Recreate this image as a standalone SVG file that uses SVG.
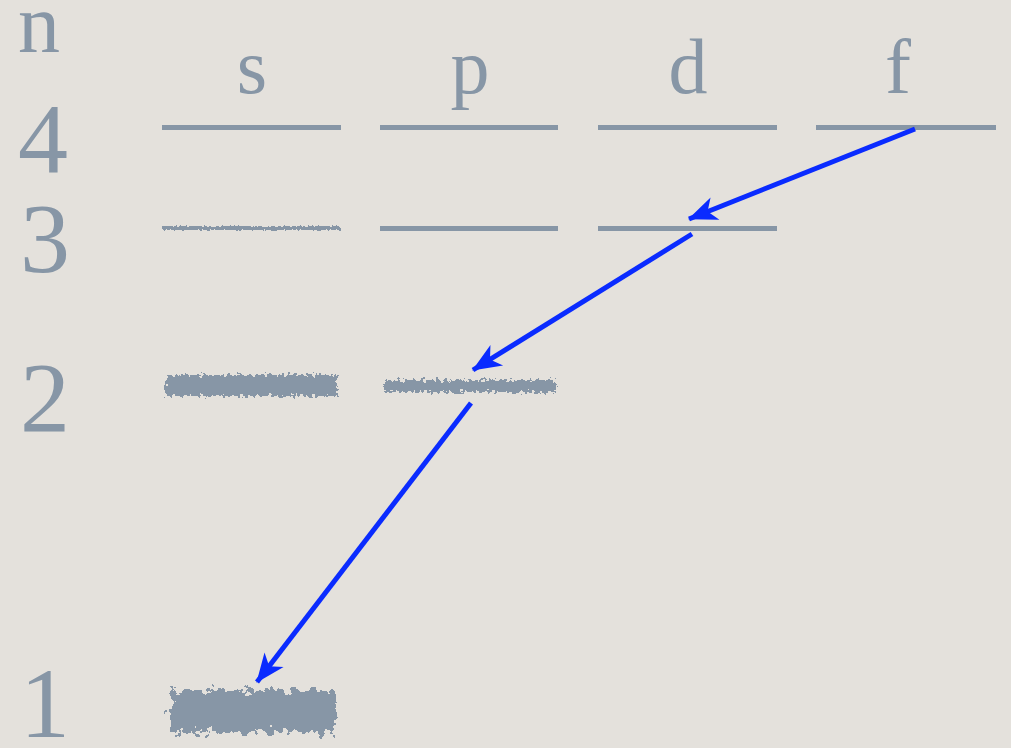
<svg xmlns="http://www.w3.org/2000/svg" width="1011" height="748" viewBox="0 0 1011 748">
<defs>
<style>
.lab{font-family:"Liberation Serif","DejaVu Serif",serif;fill:#8796a6}
.num{font-size:100px}
.orb{font-size:78px;text-anchor:middle}
.lvl{fill:#8796a6}
.arr{stroke:#0a2bff;stroke-width:5;fill:none;marker-end:url(#ah)}
</style>
<marker id="ah" markerUnits="userSpaceOnUse" viewBox="-32 -14 34 28" markerWidth="34" markerHeight="28" refX="0" refY="0" orient="auto">
<path d="M1,0 L-28,-12 L-20,0 L-28,12 Z" fill="#0a2bff"/>
</marker>
<filter id="rough1" x="-5%" y="-100%" width="110%" height="300%">
<feTurbulence type="fractalNoise" baseFrequency="0.5" numOctaves="2" seed="3"/>
<feDisplacementMap in="SourceGraphic" scale="4" xChannelSelector="R" yChannelSelector="G"/>
</filter>
<filter id="rough2" x="-5%" y="-60%" width="110%" height="220%">
<feTurbulence type="fractalNoise" baseFrequency="0.25" numOctaves="3" seed="7"/>
<feDisplacementMap in="SourceGraphic" scale="11" xChannelSelector="R" yChannelSelector="G"/>
</filter>
<filter id="rough3" x="-8%" y="-40%" width="116%" height="180%">
<feTurbulence type="fractalNoise" baseFrequency="0.12" numOctaves="3" seed="11"/>
<feDisplacementMap in="SourceGraphic" scale="20" xChannelSelector="R" yChannelSelector="G"/>
</filter>
</defs>
<rect width="1011" height="748" fill="#e4e1dc"/>
<g id="axis-labels">
<text class="lab" x="18" y="52" font-size="84">n</text>
<text class="lab num" x="18" y="172">4</text>
<text class="lab num" x="20" y="272">3</text>
<text class="lab num" x="20" y="431">2</text>
<text class="lab num" x="20" y="737">1</text>
</g>
<g id="orbital-labels">
<text class="lab orb" x="252" y="93">s</text>
<text class="lab orb" x="470" y="93">p</text>
<text class="lab orb" x="688" y="93">d</text>
<text class="lab orb" x="898" y="93">f</text>
</g>
<g id="n4">
<rect class="lvl" x="162" y="125" width="179" height="5"/>
<rect class="lvl" x="380" y="125" width="178" height="5"/>
<rect class="lvl" x="598" y="125" width="179" height="5"/>
<rect class="lvl" x="816" y="125" width="180" height="5"/>
</g>
<g id="n3">
<rect class="lvl" x="162" y="226" width="178" height="4" filter="url(#rough1)"/>
<rect class="lvl" x="380" y="226" width="178" height="5"/>
<rect class="lvl" x="598" y="226" width="179" height="5"/>
</g>
<g id="n2">
<rect class="lvl" x="166" y="375" width="171" height="21" filter="url(#rough2)"/>
<rect class="lvl" x="384" y="380" width="172" height="12" filter="url(#rough2)"/>
</g>
<g id="n1">
<rect class="lvl" x="170" y="690" width="166" height="42" filter="url(#rough3)"/>
</g>
<g id="connectors">
<line class="arr" x1="915" y1="129" x2="689" y2="219"/>
<line class="arr" x1="692" y1="234" x2="473" y2="370"/>
<line class="arr" x1="471" y1="403" x2="257" y2="682"/>
</g>
</svg>
